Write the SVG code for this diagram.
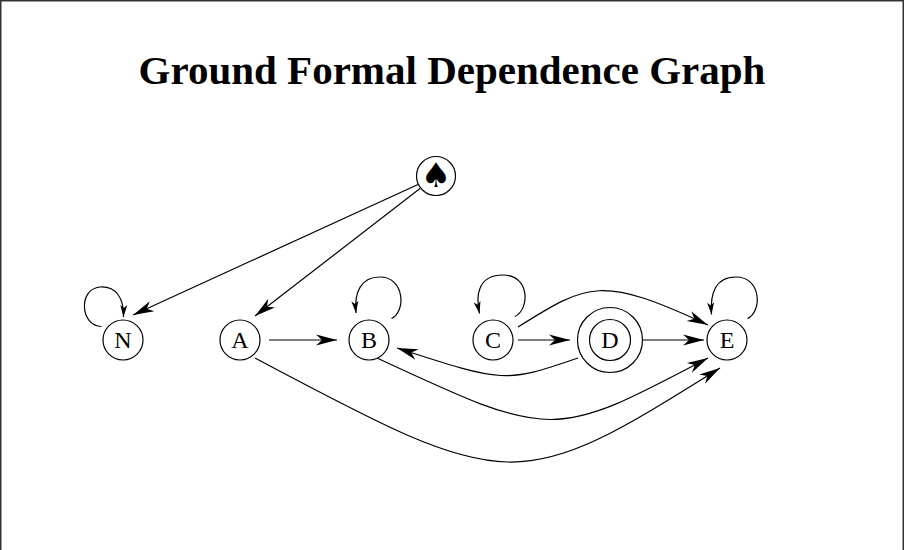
<svg xmlns="http://www.w3.org/2000/svg" width="904" height="550" viewBox="0 0 904 550">
  <style>
    .frame { fill: none; stroke: #333; stroke-width: 1.5; }
    .title { font-family: "Liberation Serif", "Times New Roman", serif; font-weight: bold; font-size: 41px; text-anchor: middle; fill: #000; }
    .node circle { fill: #fff; stroke: #000; stroke-width: 1.2; }
    .node text { font-family: "Liberation Serif", "Times New Roman", serif; font-size: 24px; text-anchor: middle; fill: #000; }
    .node text.sym { font-family: "DejaVu Sans", sans-serif; font-size: 34px; }
    .edge { fill: none; stroke: #000; stroke-width: 1.2; }
    .big { marker-end: url(#head); }
    .loop { marker-end: url(#small); }
  </style>
  <defs>
    <marker id="head" viewBox="-23 -7 25 14" refX="0" refY="0" markerWidth="25" markerHeight="14" markerUnits="userSpaceOnUse" orient="auto">
      <path d="M0,0 L-21,-5.5 L-15,0 L-21,5.5 Z" fill="#000"/>
    </marker>
    <marker id="small" viewBox="-13 -5 15 10" refX="0" refY="0" markerWidth="15" markerHeight="10" markerUnits="userSpaceOnUse" orient="auto">
      <path d="M0,0 L-12,-3.5 L-9,0 L-12,3.5 Z" fill="#000"/>
    </marker>
  </defs>

  <rect width="904" height="550" fill="#fff"/>
  <path class="frame" d="M0.75,550 V0.75 H903.25 V550"/>

  <text class="title" x="452" y="84">Ground Formal Dependence Graph</text>

  <!-- connectors -->
  <g id="edges">
    <line class="edge big" x1="418" y1="184.5" x2="133" y2="315"/>
    <line class="edge big" x1="420" y1="188.5" x2="255" y2="316"/>
    <line class="edge big" x1="269" y1="340" x2="337" y2="340"/>
    <line class="edge big" x1="518" y1="340" x2="570" y2="340"/>
    <line class="edge big" x1="642.5" y1="340" x2="704" y2="340"/>
    <path class="edge big" d="M518,327 C588,283 601,275 708,325"/>
    <path class="edge big" d="M578,358 C505,383 505,383 397,348"/>
    <path class="edge big" d="M377,358 C553,440 553,440 708,358"/>
    <path class="edge big" d="M255,358 C512,495 517,495 720,368"/>
    <!-- self loops -->
    <path class="edge loop" d="M101.5,326.5 C80,326 78,289 100,287 C116,286 124,298 123.5,317"/>
    <path class="edge loop" d="M391.5,318.5 C406,312 405,277 380,277 C361,277 354,292 356,313"/>
    <path class="edge loop" d="M515,316.5 C530,309 530,275 503,275 C480,275 475,292 479.5,313.5"/>
    <path class="edge loop" d="M747.5,318.5 C762,312 762,277 736,277 C715,277 710,294 711.5,314.5"/>
  </g>

  <!-- nodes -->
  <g id="node-spade" class="node">
    <circle cx="436" cy="176" r="19.5"/>
    <text class="sym" x="436" y="187">♠</text>
  </g>
  <g id="node-N" class="node">
    <circle cx="123" cy="340" r="20"/>
    <text x="123" y="348">N</text>
  </g>
  <g id="node-A" class="node">
    <circle cx="240" cy="340" r="20"/>
    <text x="240" y="348">A</text>
  </g>
  <g id="node-B" class="node">
    <circle cx="369" cy="340" r="20"/>
    <text x="369" y="348">B</text>
  </g>
  <g id="node-C" class="node">
    <circle cx="493" cy="340" r="20"/>
    <text x="493" y="348">C</text>
  </g>
  <g id="node-D" class="node">
    <circle cx="610" cy="340" r="32.5"/>
    <circle cx="610" cy="340" r="20.5"/>
    <text x="610" y="348">D</text>
  </g>
  <g id="node-E" class="node">
    <circle cx="727" cy="340" r="20"/>
    <text x="727" y="348">E</text>
  </g>
</svg>
